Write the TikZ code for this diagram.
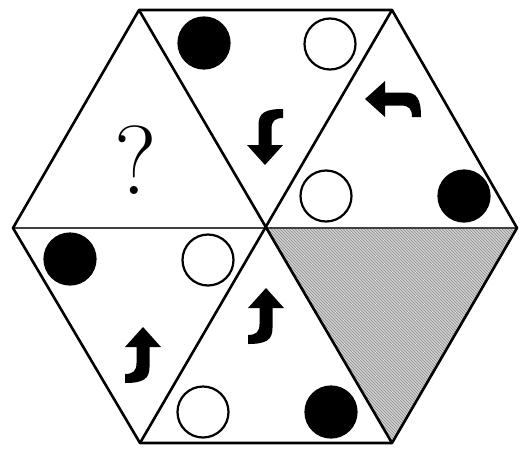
\documentclass[tikz,border=0pt]{standalone}
\usetikzlibrary{patterns}
\begin{document}
\begin{tikzpicture}[
  x=1pt,y=-1pt,
  edge/.style={line width=2.6pt,line join=round},
  midline/.style={line width=2.6pt,black!75},
  dot/.style={circle,draw,line width=2.2pt,minimum size=51pt,inner sep=0pt},
  full/.style={dot,fill=black},
  hole/.style={dot,fill=white},
  shade/.style={fill=black!18,postaction={pattern=north west lines,pattern color=black!45}},
  hook/.pic={\fill[black] (0,-28) -- (18,-8) -- (6.5,-8) -- (6.5,12)
      .. controls (6.5,24) and (0,28) .. (-18,28) -- (-18,19)
      .. controls (-10,19) and (-6.5,16) .. (-6.5,8) -- (-6.5,-8) -- (-18,-8) -- cycle;}
]
\useasboundingbox (0,0) rectangle (521,450);

% hexagon corners
\coordinate (O)  at (265,228);
\coordinate (L)  at (13,228);
\coordinate (R)  at (517,228);
\coordinate (TL) at (139,10);
\coordinate (TR) at (392,10);
\coordinate (BL) at (140,443);
\coordinate (BR) at (392,443);

% shaded piece
\fill[shade] (O) -- (R) -- (BR) -- cycle;

% cuts
\draw[midline] (L) -- (R);
\draw[edge] (TL) -- (BR);
\draw[edge] (TR) -- (BL);
\draw[edge] (L) -- (TL) -- (TR) -- (R) -- (BR) -- (BL) -- cycle;

% top piece
\node[full] (c1) at (204,43) {};
\node[hole] (c2) at (330,44) {};
\pic[rotate=180] (a1) at (265,137) {hook};

% upper right piece
\pic[rotate=90] (a2) at (393,99) {hook};
\node[hole] (c3) at (326,196) {};
\node[full] (c4) at (464,196) {};

% lower left piece
\node[full] (c5) at (70,259) {};
\node[hole] (c6) at (208,260) {};
\pic (a3) at (143,355) {hook};

% bottom piece
\pic (a4) at (266,316) {hook};
\node[hole] (c7) at (203,412) {};
\node[full] (c8) at (331,412) {};

% upper left piece
\node[font=\fontsize{98}{98}\selectfont] (q) at (136,160) {?};

\end{tikzpicture}
\end{document}
